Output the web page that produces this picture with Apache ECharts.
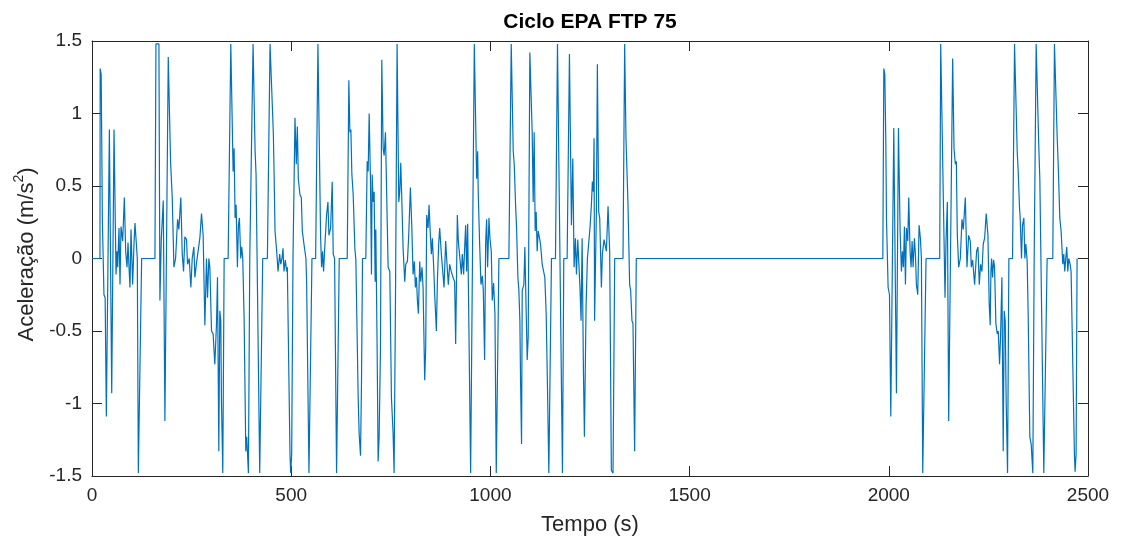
<!DOCTYPE html>
<html>
<head>
<meta charset="utf-8">
<script src="https://cdn.jsdelivr.net/npm/echarts@6/dist/echarts.min.js"></script>
<style>html,body{margin:0;padding:0;background:#fff}#c{width:1121px;height:541px}</style>
</head>
<body>
<div id="c"></div>
<script>
// Tick values
const xTicks = [0, 500, 1000, 1500, 2000, 2500];
const yTicks = [-1.5, -1, -0.5, 0, 0.5, 1, 1.5];

// [time (s), acceleration (m/s^2)]
const phase1Early = [[0,0],[20,0],[20.5,1.31],[23,1.27],[24.5,0.8],[26,0.27],[30,-0.25],[33,-0.27],[36,-1.09],[43.6,0.89],[49.5,-0.93],[55.3,0.89],[60.3,-0.11],[62.8,0.05],[64.5,-0.06],[67.8,0.21],[70.3,-0.18],[72.8,0.22],[77,0.12],[81.2,0.42],[84.5,0.05],[87.9,-0.06],[90.4,0.11],[92.9,-0.06],[95.4,-0.2],[97.9,0.2],[102,-0.18],[105.4,0.1],[107.9,0.245],[110.4,0.14],[113.7,0],[116.3,-1.48],[120.4,-1.48],[124.6,0],[158,0],[160.5,1.48],[168,1.48],[170.5,-0.29],[173.9,0.13],[178.9,0.4],[183,-1.12],[191.4,1.39],[197.2,0.67],[201.4,0.42],[205.6,-0.06],[209.8,0],[214.8,0.27],[218,0.2],[223,0.42],[226.5,0.03],[229.8,-0.09],[233,0.15],[237.3,0.13],[239.8,-0.04],[244,0],[248.2,-0.2],[251.5,0],[255.7,0.08],[258.2,-0.13],[262.4,-0.03],[266.6,-0.04],[270.7,0.14],[274.9,0.31],[279,0.16],[283.3,-0.46],[287.4,0],[290,-0.27],[293.3,0],[295.8,-0.06],[300,-0.5]];
const phase1Late = [[304,-0.52],[308.3,-0.73],[312.5,-0.45],[315,-0.13],[318.3,-1.33],[320.8,-0.36],[323.3,-0.43],[325,-1.0],[328.3,-1.48],[331.7,0],[341.7,0],[348.4,1.48],[350,1.48],[354.2,0.6],[356.7,0.76],[359.2,0.28],[361.7,0.37],[365,-0.06],[367.6,0.23],[370,0.28],[373.4,0],[375.9,0.08],[378.4,0],[381.8,-0.41],[386,-1.33],[388.4,-1.23],[392.6,-1.48],[396,0],[400.1,0],[404.3,1.48],[406.8,1.48],[409.3,0.75],[411.8,0.58],[421,-1.48],[425.2,-1.48],[428.5,0],[440.2,0],[446.9,1.48],[451,1.48],[455.2,0.86],[456.9,0.61],[459.4,0.19],[463.6,0.05],[466.9,-0.09],[471.1,0.03],[473.6,-0.04],[476.9,0],[479.4,0.07],[481.9,-0.09],[485.3,-0.01],[488.6,-0.09],[490.3,-0.06],[497,-1.35],[498.7,-1.48],[501.2,-1.35],[504.5,0],[507,0],[509.5,0.97],[512.8,0.65],[515.4,0.91],[517.9,0.55],[522,0.44],[525.4,0.42],[527.9,0.19],[532,0.1],[537,0],[538.7,-0.16],[544.6,-1.48],[548.8,-1.48],[552.1,0],[561.3,0],[567.1,1.48],[570.5,1.48],[573.8,0.15],[576.3,-0.06],[578.8,0.05],[581.3,-0.09],[584.7,0.1],[588.8,0.3],[592.2,0.39],[594.7,0.16],[598.9,0.21],[603,0.53],[605.5,0.03],[608.9,0],[613.9,-1.48],[617.2,-1.48],[620.6,0]];
const phase2Early = [[640.6,0],[644.7,1.23],[647.3,0.87],[649.8,0.89],[652.3,0.58],[655.6,0.44],[659.8,0.07],[662.3,-0.01],[664,-0.02],[668.1,-0.96],[670.6,-1.21],[674,-1.36],[676.5,-0.84],[679,0],[687.3,0],[690.7,0.67],[693.2,0.6],[695.7,1.0],[699,0.53],[701.5,-0.11],[703.2,0.58],[705.7,0.39],[708.2,0.46],[710.7,-0.16],[712.4,0.2],[715.7,-0.62],[718.2,-1.4],[720.7,-1.23],[724.1,-0.62],[727.4,1.37],[730.8,0.76],[733.3,0.71],[736.6,0.87],[743.3,-0.06],[747.5,-0.09],[751.6,-0.96],[755.8,-1.21],[758.3,-1.48],[761.6,-0.34],[765.8,1.48],[768.3,1.48],[770,0.39],[772.5,0.46],[775,0.66],[777.5,0.42],[780.9,0.07],[785,-0.16],[787.5,-0.04],[791.7,-0.02],[795,0.16],[799.2,0.49],[802.6,0.23],[805.9,-0.11],[809.2,-0.02],[811.7,-0.2],[814.3,-0.13],[816.8,-0.29],[819.3,-0.38],[822.6,-0.02],[825.1,-0.16],[828.4,-0.06],[831,-0.2],[835.1,-0.84],[837.6,-0.62],[840.1,0.3],[843.5,0.21],[846,0.37],[849.3,0.16],[851.8,0.03],[854.3,0.14],[857.7,-0.06],[860.2,-0.25],[864.4,-0.5],[866.9,-0.16],[870.2,0.1],[872.7,0.21],[876.9,0.03],[881,-0.11],[883.6,-0.2],[887.7,0.12],[891.1,-0.04],[894.4,-0.18],[897.8,-0.04],[901.9,-0.09],[906.1,-0.13],[910.3,-0.16],[912.8,-0.59],[917,0.3],[919.5,0.12],[922.8,0.02],[927,-0.11],[929.5,0.03],[932.8,-0.11],[935.3,0.07]];
const phase2Mid = [[937.9,0.23],[940.4,-0.09],[942.9,0.24],[950.4,-1.48],[952.9,-1.48],[959.6,1.48],[962.1,1.48],[965.5,0.55],[968,0.74],[969.6,0.44],[973,0.1],[976.3,-0.18],[979.7,-0.12],[982.2,-0.22],[985.5,-0.7],[988,0.1],[990.5,0.27],[993,-0.06],[996.4,0.28],[998.9,0.14],[1002.2,0.05],[1004.7,-0.29],[1008,-0.17],[1011.4,-0.38],[1014.7,-1.48],[1018.1,-1.48],[1021.4,0],[1046.4,0],[1052.3,1.48],[1054.8,1.48],[1057.3,0.74],[1059.8,0.65],[1063.2,0.37],[1065.7,0.21],[1069,-0.13],[1071.5,-0.22],[1074,-0.43],[1075.7,-0.84],[1078.2,-1.28],[1079.9,-0.22],[1084,-0.18],[1086.5,0.08],[1089.9,-0.38],[1092.4,-0.7],[1094.9,-0.54],[1099,1.42],[1102.4,1.42],[1104.9,0.87],[1107.4,0.39],[1109.9,0.87],[1112.4,0.19],[1114.9,0.32],[1117.4,0.05],[1119.9,0.19],[1123.3,0.14],[1125.8,0.1],[1130,-0.04],[1136.6,-0.13],[1140,-0.38],[1143.3,-0.89],[1146.7,-1.48],[1150,-1.48],[1153.3,0],[1163.3,0],[1168.4,1.48],[1171.7,1.48],[1180.9,-1.48],[1184.2,0],[1192.6,0],[1198.4,1.41],[1203.4,0.23],[1206.8,0.69],[1210.1,-0.06],[1213.4,0.14],[1216,-0.11],[1219.3,0.13],[1221.8,-0.02],[1225.1,-0.22],[1227.6,-0.43],[1230.2,0.14],[1233.5,-0.77],[1236,-1.23],[1240.2,-0.32],[1243.5,0],[1246.9,0],[1250.2,0.22],[1253.5,0.37]];
const phase2Late = [[1256,0.53],[1258.5,0.46],[1260.2,0.83],[1261.5,-0.43],[1263.5,-0.43],[1266,0.32],[1268.5,1.34],[1271.9,0.32],[1274.4,0.28],[1278.6,-0.2],[1281,0.03],[1285.2,0.13],[1288.6,0.14],[1291.1,0.05],[1295.3,0.36],[1299.4,0.05],[1303.6,-1.46],[1307.8,-1.48],[1312,0],[1332.8,0],[1337,1.48],[1340.3,0.83],[1345.4,0.37],[1349.5,-0.18],[1352,-0.22],[1355.4,-0.43],[1357.9,-0.45],[1362,-1.33],[1366.2,0]];
const soak = [[1985,0]];
const phase3Early = [[1987.5,1.31],[1990,1.27],[1992.5,0.81],[1994.2,0.27],[1998.3,-0.2],[2001.7,-0.25],[2005,-1.09],[2012.5,0.9],[2019.2,-0.93],[2024.2,0.9],[2028.4,0.19],[2031.7,-0.09],[2034.2,0.05],[2036.7,-0.06],[2039.2,0.22],[2041.8,-0.18],[2044.3,0.21],[2047.6,0.12],[2050.1,0.42],[2053.4,0.05],[2055.9,-0.06],[2058.5,0.12],[2061,-0.06],[2064.3,0.14],[2066.8,0.03],[2069.3,-0.18],[2072.6,-0.25],[2076,0.23],[2079.3,0.14],[2081.8,0],[2085.2,-1.48],[2089.3,-1.48],[2093.5,0],[2127.8,0],[2130.3,1.48],[2135.3,1.48],[2138.6,0.14],[2141.1,-0.27],[2143.6,0.12],[2147,0.39],[2150.3,-1.12],[2160.3,1.38],[2163.7,0.76],[2167,0.65],[2169.5,0.67],[2172,0.16],[2175.4,-0.06],[2179.5,0],[2183.7,0.27],[2187,0.2],[2192.1,0.42],[2196.2,-0.06],[2200.4,0.16],[2204.6,0.12],[2207.1,-0.06],[2210.4,-0.01],[2215.4,-0.18]];
const phase3Late = [[2220.4,0.05],[2223.8,0.08],[2227.1,-0.18],[2230.4,-0.04],[2233.8,-0.09],[2237.1,0.1],[2240.5,0.14],[2244.6,0.31],[2248.8,0.16],[2252.1,-0.32],[2254.6,-0.46],[2256.3,-0.09],[2258,0],[2260.5,-0.13],[2263,-0.01],[2265.5,-0.06],[2268.8,-0.45],[2272.2,-0.52],[2274.7,-0.5],[2278,-0.73],[2280.5,-0.54],[2283.9,-0.13],[2287.2,-1.33],[2289.7,-0.36],[2292.2,-0.43],[2294.7,-1.0],[2298.1,-1.48],[2301.4,0],[2310.6,0],[2315.6,1.48],[2318.1,1.48],[2322.3,0.74],[2324.8,0.6],[2328.1,0.35],[2329.8,0.28],[2333.1,0],[2335.6,0.23],[2339,0.28],[2341.5,0],[2344,0.1],[2347.3,-0.02],[2349.8,-0.38],[2354,-1.23],[2357.4,-1.28],[2361.5,-1.48],[2364.9,0],[2369.9,1.48],[2374,1.48],[2376.6,0.76],[2379.1,0.55],[2389.1,-1.48],[2394.1,-1.48],[2397.4,0],[2411.6,0],[2415.8,1.48],[2420,1.48],[2422.5,0.85],[2425.8,0.6],[2429.2,0.28],[2432.5,0.19],[2434.2,0.1],[2436.7,-0.04],[2439.2,0.03],[2441.7,-0.09],[2444.2,0],[2446.7,0.08],[2449.2,-0.09],[2451.7,0],[2455.1,-0.04],[2457.6,-0.09],[2465.9,-1.35],[2467.6,-1.47],[2470.1,-1.35],[2472.6,0]];

const cycleData = [].concat(phase1Early, phase1Late, phase2Early, phase2Mid, phase2Late, soak, phase3Early, phase3Late);

const FONT = "'Liberation Sans', Arial, Helvetica, sans-serif";
const AX = '#262626';

const xMin = xTicks[0], xMax = xTicks[xTicks.length - 1], xStep = xTicks[1] - xTicks[0];
const yMin = yTicks[0], yMax = yTicks[yTicks.length - 1], yStep = yTicks[1] - yTicks[0];
const plainNum = v => String(v);

function xAxisCfg(pos, showLabel, name) {
  return {
    type: 'value', position: pos, min: xMin, max: xMax, interval: xStep,
    axisLine: { show: true, onZero: false, lineStyle: { color: AX, width: 1 } },
    axisTick: { show: true, inside: true, length: 10, lineStyle: { color: AX, width: 1 } },
    axisLabel: { show: showLabel, fontSize: 19, color: AX, fontFamily: FONT, margin: 10, formatter: plainNum },
    splitLine: { show: false },
    name: name || '', nameLocation: 'middle', nameGap: 38,
    nameTextStyle: { fontSize: 22, color: AX, fontFamily: FONT }
  };
}
function yAxisCfg(pos, showLabel, withName) {
  const c = {
    type: 'value', position: pos, min: yMin, max: yMax, interval: yStep,
    axisLine: { show: true, onZero: false, lineStyle: { color: AX, width: 1 } },
    axisTick: { show: true, inside: true, length: 10, lineStyle: { color: AX, width: 1 } },
    axisLabel: { show: showLabel, fontSize: 19, color: AX, fontFamily: FONT, margin: 10, formatter: plainNum },
    splitLine: { show: false }
  };
  if (withName) {
    c.name = '{a|Aceleração (m/s}{s|2}{a|)}';
    c.nameLocation = 'middle';
    c.nameGap = 44;
    c.nameRotate = 90;
    c.nameTextStyle = {
      fontFamily: FONT, color: AX, padding: [0, 0, 0, 8],
      rich: {
        a: { fontSize: 22, lineHeight: 30, color: AX, fontFamily: FONT },
        s: { fontSize: 14, lineHeight: 14, verticalAlign: 'top', color: AX, fontFamily: FONT }
      }
    };
  }
  return c;
}

const chart = echarts.init(document.getElementById('c'), null, { renderer: 'canvas' });
chart.setOption({
  animation: false,
  backgroundColor: '#fff',
  title: {
    text: 'Ciclo EPA FTP 75', left: 590, top: 12, textAlign: 'center', padding: 0,
    textStyle: { fontSize: 21, fontWeight: 'bold', color: '#000', fontFamily: FONT }
  },
  grid: { left: 92, right: 33, top: 41, bottom: 65, containLabel: false },
  xAxis: [xAxisCfg('bottom', true, 'Tempo (s)'), xAxisCfg('top', false, '')],
  yAxis: [yAxisCfg('left', true, true), yAxisCfg('right', false, false)],
  series: [{
    type: 'line', xAxisIndex: 0, yAxisIndex: 0, data: cycleData,
    showSymbol: false, symbol: 'none', clip: true,
    lineStyle: { color: '#0072BD', width: 1.2 }
  }]
});
</script>
</body>
</html>
